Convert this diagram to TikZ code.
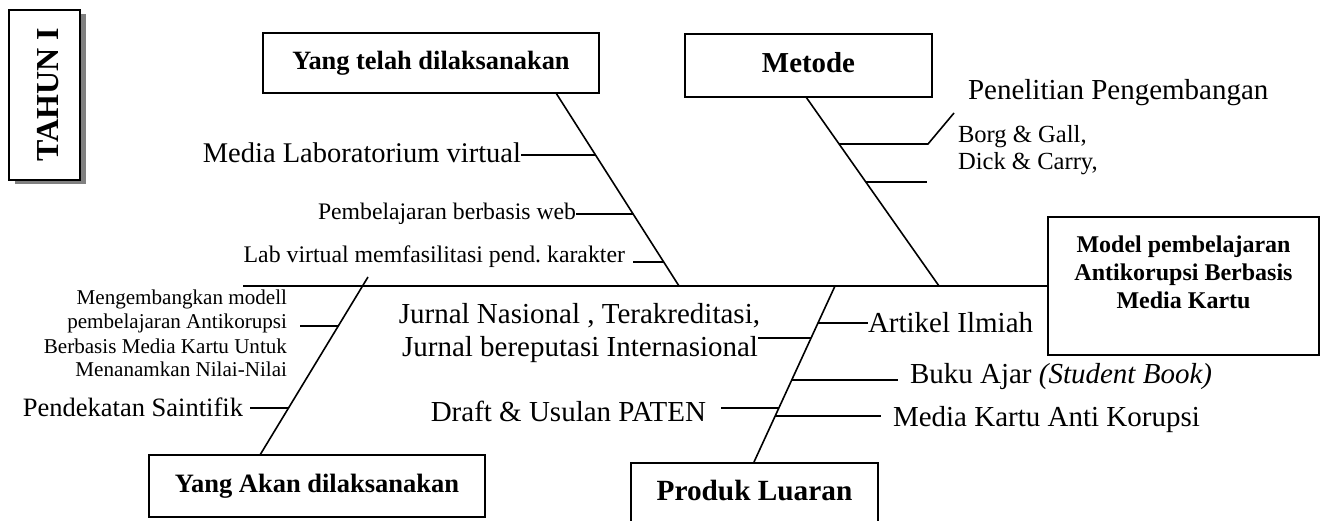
\documentclass[tikz,border=0pt]{standalone}
\usepackage{fontspec}
\setmainfont{Liberation Serif}
\usetikzlibrary{shadows}
\newcommand{\pxfont}[1]{\fontsize{#1}{#1}\selectfont}
\tikzset{
  line/.style={line width=1.6pt},
  box/.style={draw, line width=1.6pt, fill=white, inner sep=0pt, align=center},
  lbl/.style={inner sep=0pt, outer sep=0pt},
  big/.style={lbl, font=\pxfont{29}},
}
\begin{document}
\begin{tikzpicture}[x=1pt,y=-1pt]
\useasboundingbox (0,0) rectangle (1323,521);
\clip (0,0) rectangle (1323,521);

% ---------- boxes ----------
\node[box, minimum width=71, minimum height=170,
      drop shadow={shadow xshift=6pt, shadow yshift=-4pt, fill=black!50, opacity=1}]
      (tahun) at (44.5,95) {\hspace{8pt}\rotatebox{90}{\pxfont{32}\bfseries TAHUN I}};
\node[box, minimum width=336, minimum height=60, font=\pxfont{26.4}\bfseries]
      (yt) at (431,63) {Yang telah dilaksanakan};
\node[box, minimum width=247, minimum height=63, font=\pxfont{28.9}\bfseries,
      text height=20, text depth=5]
      (met) at (808.5,65.5) {Metode};
\node[box, minimum width=271, minimum height=138, font=\fontsize{24}{28}\selectfont\bfseries]
      (model) at (1183.5,286) {Model pembelajaran\\Antikorupsi Berbasis\\Media Kartu\\\mbox{}};
\node[box, minimum width=336, minimum height=62, font=\pxfont{26.5}\bfseries]
      (ya) at (317,486) {Yang Akan dilaksanakan};
\node[box, anchor=north, minimum width=247, minimum height=80, font=\pxfont{29.3}\bfseries,
      text height=20, text depth=24]
      (prod) at (754.5,462) {Produk Luaran};

% ---------- spine and bones ----------
\coordinate (spL) at (243,286);
\draw[line] (spL) -- (model.west);

\coordinate (b1a) at (556,93);  \coordinate (b1b) at (679,286);
\coordinate (b2a) at (806,97);  \coordinate (b2b) at (939,286);
\coordinate (b3a) at (368,277); \coordinate (b3b) at (260,455);
\coordinate (b4a) at (835,286); \coordinate (b4b) at (754,462);
\draw[line] (b1a) -- (b1b);
\draw[line] (b2a) -- (b2b);
\draw[line] (b3a) -- (b3b);
\draw[line] (b4a) -- (b4b);

% ---------- labels ----------
\node[lbl, anchor=base east, font=\pxfont{28.5}] (medlab) at (521,163) {Media Laboratorium virtual};
\node[lbl, anchor=base east, font=\pxfont{23.7}] (pemweb) at (576,220) {Pembelajaran berbasis web};
\node[lbl, anchor=base east, font=\pxfont{23.8}] (labvir) at (625,263) {Lab virtual memfasilitasi pend.\ karakter};

\node[big, anchor=base west] (penel) at (968,100) {Penelitian Pengembangan};
\node[lbl, anchor=base west, font=\pxfont{24.6}] (borg) at (958,143) {Borg \& Gall,};
\node[lbl, anchor=base west, font=\pxfont{24.6}] (dick) at (958,170) {Dick \& Carry,};

\node[lbl, anchor=base east, font=\pxfont{21.1}] (meng1) at (287,305) {Mengembangkan modell};
\node[lbl, anchor=base east, font=\pxfont{21.1}] (meng2) at (287,329) {pembelajaran Antikorupsi};
\node[lbl, anchor=base east, font=\pxfont{21.1}] (meng3) at (287,353) {Berbasis Media Kartu Untuk};
\node[lbl, anchor=base east, font=\pxfont{21.1}] (meng4) at (287,377) {Menanamkan Nilai-Nilai};
\node[lbl, anchor=base east, font=\pxfont{26.5}] (pend) at (243,416) {Pendekatan Saintifik};

\node[big, anchor=base east] (jur1) at (760,324) {Jurnal Nasional , Terakreditasi,};
\node[big, anchor=base east] (jur2) at (758,356) {Jurnal bereputasi Internasional};
\node[big, anchor=base east] (draft) at (706,421) {Draft \& Usulan PATEN};
\node[big, anchor=base west] (art) at (868,333) {Artikel Ilmiah};
\node[big, anchor=base west] (buku) at (910,383) {Buku Ajar \textit{(Student Book)}};
\node[big, anchor=base west] (mkar) at (893,426) {Media Kartu Anti Korupsi};

% ---------- twigs ----------
\coordinate (t1) at (595.5,155);
\draw[line] (medlab.east |- t1) -- (t1);
\coordinate (t2) at (633,214);
\draw[line] (pemweb.east |- t2) -- (t2);
\coordinate (t3a) at (633,262); \coordinate (t3b) at (663.7,262);
\draw[line] (t3a) -- (t3b);

\coordinate (t4a) at (839,144); \coordinate (t4b) at (928,144); \coordinate (t4c) at (954,113);
\draw[line] (t4a) -- (t4b) -- (t4c);
\coordinate (t5a) at (866,182); \coordinate (t5b) at (927,182);
\draw[line] (t5a) -- (t5b);

\coordinate (t6a) at (300,326); \coordinate (t6b) at (338.3,326);
\draw[line] (t6a) -- (t6b);
\coordinate (t7a) at (250,408); \coordinate (t7b) at (288.5,408);
\draw[line] (t7a) -- (t7b);

\coordinate (t8) at (818,323);
\draw[line] (t8) -- (art.west |- t8);
\coordinate (t9a) at (758,338); \coordinate (t9b) at (811,338);
\draw[line] (t9a) -- (t9b);
\coordinate (t10a) at (791.7,380); \coordinate (t10b) at (898,380);
\draw[line] (t10a) -- (t10b);
\coordinate (t11a) at (721,408); \coordinate (t11b) at (779,408);
\draw[line] (t11a) -- (t11b);
\coordinate (t12a) at (775.2,416); \coordinate (t12b) at (881,416);
\draw[line] (t12a) -- (t12b);
\end{tikzpicture}
\end{document}
